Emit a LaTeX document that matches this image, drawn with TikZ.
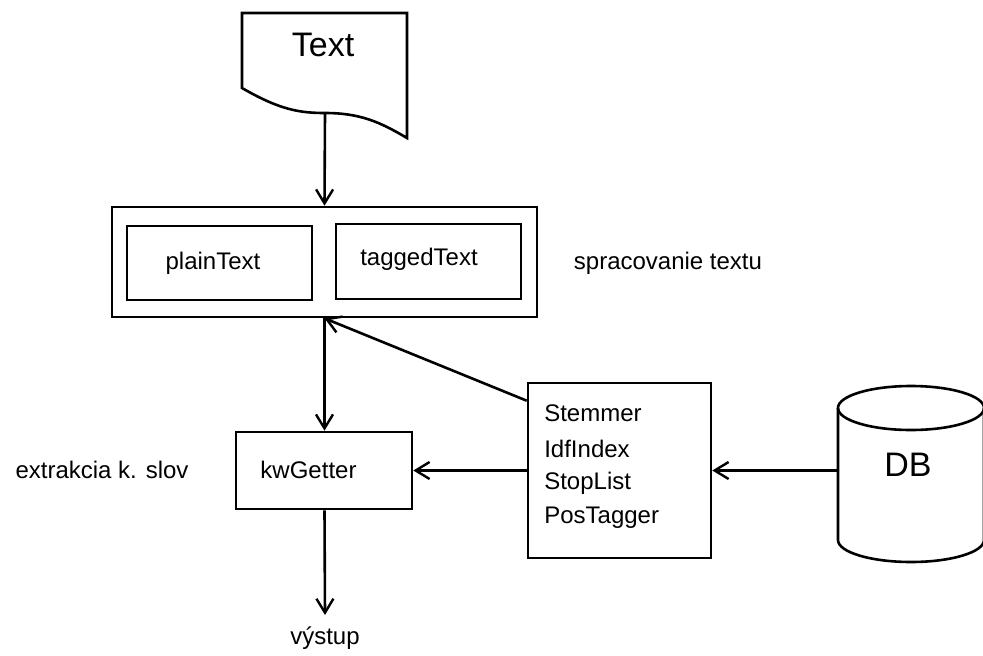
\documentclass[tikz,border=0pt]{standalone}
\usepackage{fontspec}
\setmainfont{Liberation Sans}
\usetikzlibrary{arrows.meta,calc}
\begin{document}
\begin{tikzpicture}[x=1pt,y=-1pt,
  line width=2.6pt,
  box/.style={draw,line width=2.6pt,inner sep=0pt},
  lbl/.style={font=\fontsize{24}{28}\selectfont,inner sep=0pt},
  big/.style={font=\fontsize{34}{40}\selectfont,inner sep=0pt},
  arr/.style={-{Straight Barb[length=14pt,width=17pt,line width=2.4pt]},line width=2.6pt}
]
\useasboundingbox (0,0) rectangle (983,656);
\clip (0,0) rectangle (983,656);
% document shape
\draw[line join=miter] (242,13) -- (407,13) -- (407,138)
  .. controls (380,122) and (360,113) .. (325,113)
  .. controls (300,113) and (280,110) .. (242,88) -- cycle;
\node[big] (txt) at (323,45) {Text};
\coordinate (docb) at (325,113);
% processing box
\node[box,minimum width=425pt,minimum height=110pt] (outer) at (324.5,262) {};
\node[box,minimum width=185pt,minimum height=74pt] (plain) at (219.5,263) {};
\node[box,minimum width=185pt,minimum height=75pt] (tagged) at (428.5,261.5) {};
\node[lbl] (plaint) at (213,263) {plainText};
\node[lbl] (taggedt) at (419,259) {taggedText};
\node[lbl] (sprac) at (668,263) {spracovanie textu};
% kwGetter
\node[box,minimum width=176pt,minimum height=77pt] (kw) at (324,470.5) {};
\node[lbl] (kwt) at (308.5,470) {kwGetter};
\node[lbl] (extr) at (102,470) {extrakcia k. slov};
\node[lbl] (vy) at (325,638) {výstup};
\coordinate (vyt) at (325,615);
% tools
\node[box,minimum width=183pt,minimum height=175pt] (tools) at (619.5,470.5) {};
\node[lbl,anchor=west] (t1) at (543,413) {Stemmer};
\node[lbl,anchor=west] (t2) at (543,449) {IdfIndex};
\node[lbl,anchor=west] (t3) at (543,483) {StopList};
\node[lbl,anchor=west] (t4) at (543,518) {PosTagger};
% DB cylinder
\draw (911,408) ellipse [x radius=73, y radius=22];
\draw (838,408) -- (838,540) arc[start angle=180,end angle=0,x radius=73,y radius=22] -- (984,408);
\node[big] (db) at (908,465) {DB};
\coordinate (dbw) at (838,470.5);
% connectors
\draw[arr] (docb) -- (outer.north);
\draw[arr] (outer.south) -- (outer.south |- kw.north);
\draw[arr] (outer.south |- kw.south) -- (vyt);
\draw[arr] ($(tools.north west)+(0,19)$) -- (outer.south);
\draw[arr] (tools.west) -- (kw.east);
\draw[arr] (dbw) -- (tools.east);
\end{tikzpicture}
\end{document}
